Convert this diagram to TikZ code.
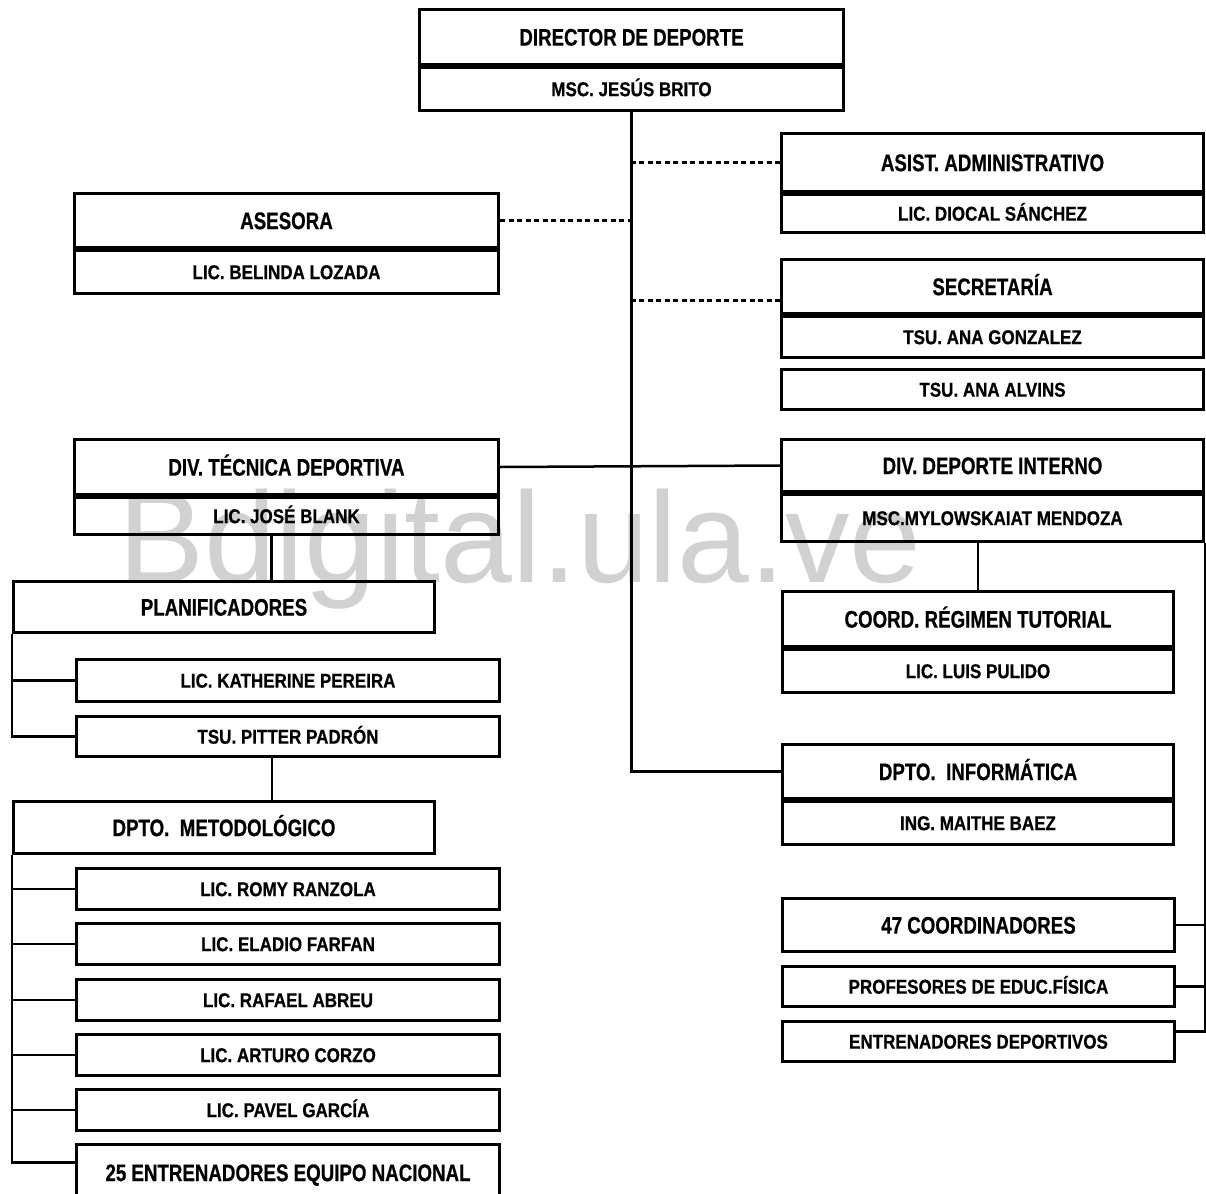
\documentclass[tikz,border=0pt]{standalone}
\usepackage{fontspec}
\setmainfont{Liberation Sans}
\newfontfamily\headfont{Liberation Sans}[FakeStretch=0.78, BoldFeatures={FakeBold=0.6}]
\newfontfamily\namefont{Liberation Sans}[FakeStretch=0.85, BoldFeatures={FakeBold=0.6}]
\usepackage{tikz}
\definecolor{wmgray}{gray}{0.82}

\begin{document}
\begin{tikzpicture}[x=1pt, y=-1pt,
		box/.style={draw, line width=3pt, inner sep=0pt, anchor=north west, align=center},
		head/.style={box, font=\headfont\bfseries\fontsize{24}{26}\selectfont, text height=17.2pt, text depth=0pt},
		sub/.style={box, font=\namefont\bfseries\fontsize{20}{22}\selectfont, text height=14.3pt, text depth=0pt},
		link/.style={line width=2.5pt},
		staff/.style={line width=2.6pt, dash pattern=on 5pt off 3.5pt}]
			\def\wl{424}
			\def\wr{422}
			\def\ws{391}

			\useasboundingbox (0,0) rectangle (1206,1193);

			% watermark behind everything
			\node[anchor=base west, text=wmgray, inner sep=0pt, font=\fontsize{129}{129}\selectfont] (wm) at (118,582) {Bdigital.ula.ve};

			% Director
			\node[head, minimum width=\wl, minimum height=55] (dirT) at (418,8) {DIRECTOR DE DEPORTE};
			\node[sub, minimum width=\wl, minimum height=43] (dirN) at (dirT.south west) {MSC. JESÚS BRITO};

			% Staff units
			\node[head, minimum width=\wl, minimum height=54] (aseT) at (73,192) {ASESORA};
			\node[sub, minimum width=\wl, minimum height=43] (aseN) at (aseT.south west) {LIC. BELINDA LOZADA};
			\node[head, minimum width=\wr, minimum height=58] (asiT) at (780,132) {ASIST. ADMINISTRATIVO};
			\node[sub, minimum width=\wr, minimum height=38] (asiN) at (asiT.south west) {LIC. DIOCAL SÁNCHEZ};
			\node[head, minimum width=\wr, minimum height=54] (secT) at (780,258) {SECRETARÍA};
			\node[sub, minimum width=\wr, minimum height=41] (secN) at (secT.south west) {TSU. ANA GONZALEZ};
			\node[sub, minimum width=\wr, minimum height=40] (alv) at (780,368) {TSU. ANA ALVINS};

			% Divisions
			\node[head, minimum width=\wl, minimum height=55] (tecT) at (73,438) {DIV. TÉCNICA DEPORTIVA};
			\node[sub, minimum width=\wl, minimum height=37] (tecN) at (tecT.south west) {LIC. JOSÉ BLANK};
			\node[head, minimum width=\wr, minimum height=52] (intT) at (780,438) {DIV. DEPORTE INTERNO};
			\node[sub, minimum width=\wr, minimum height=47] (intN) at (intT.south west) {MSC.MYLOWSKAIAT MENDOZA};

			% Left branch
			\node[head, minimum width=421, minimum height=51] (plan) at (12,580) {PLANIFICADORES};
			\node[sub, minimum width=423, minimum height=42] (kat) at (75,658) {LIC. KATHERINE PEREIRA};
			\node[sub, minimum width=423, minimum height=40] (pit) at (75,715) {TSU. PITTER PADRÓN};
			\node[head, minimum width=421, minimum height=52] (met) at (12,800) {DPTO.\ \ METODOLÓGICO};
			\foreach \n/\y/\t in {rom/867/LIC. ROMY RANZOLA, ela/922/LIC. ELADIO FARFAN,
					raf/978/LIC. RAFAEL ABREU, art/1033/LIC. ARTURO CORZO, pav/1088/LIC. PAVEL GARCÍA}
				\node[sub, minimum width=423, minimum height=41] (\n) at (75,\y) {\t};
			\node[head, minimum width=423, minimum height=56] (ent) at (75,1143) {25 ENTRENADORES EQUIPO NACIONAL};

			% Right branch
			\node[head, minimum width=\ws, minimum height=55] (tutT) at (781,590) {COORD. RÉGIMEN TUTORIAL};
			\node[sub, minimum width=\ws, minimum height=43] (tutN) at (tutT.south west) {LIC. LUIS PULIDO};
			\node[head, minimum width=\ws, minimum height=54] (infT) at (781,743) {DPTO.\ \ INFORMÁTICA};
			\node[sub, minimum width=\ws, minimum height=43] (infN) at (infT.south west) {ING. MAITHE BAEZ};
			\node[head, minimum width=392, minimum height=53] (c47) at (781,897) {47 COORDINADORES};
			\node[sub, minimum width=392, minimum height=40] (prof) at (781,965) {PROFESORES DE EDUC.FÍSICA};
			\node[sub, minimum width=392, minimum height=40] (entd) at (781,1020) {ENTRENADORES DEPORTIVOS};

			% trunk and staff lines
			\draw[link] (dirN.south) |- (infT.west);
			\draw[staff] (asiT.west) -- (asiT.west -| dirN.south);
			\draw[staff] (aseT.east) -- (aseT.east -| dirN.south);
			\coordinate (secL) at ([yshift=-14]secT.west);
			\draw[staff] (secL) -- (secL -| dirN.south);
			\draw[link] (tecT.east) -- (intT.west);

			% left brackets
			\draw[link] ([xshift=-15]tecN.south) -- ([xshift=-15]tecN.south |- plan.north);
			\draw[link] (plan.south west) |- (pit.west);
			\draw[link] (kat.west) -- (kat.west -| plan.south west);
			\draw[link] ([xshift=-16]pit.south) -- ([xshift=-16]pit.south |- met.north);
			\foreach \n in {rom,ela,raf,art,pav}
				\draw[link] (\n.west) -- (\n.west -| met.south west);
			\draw[link] (met.south west) |- ([yshift=10]ent.west);

			% right brackets
			\draw[link] (tutT.north) -- (tutT.north |- intN.south);
			\draw[link] (intN.south east) |- ([yshift=10]entd.east);
			\draw[link] (c47.east) -- (c47.east -| intN.south east);
			\draw[link] (prof.east) -- (prof.east -| intN.south east);
		\end{tikzpicture}
\end{document}
